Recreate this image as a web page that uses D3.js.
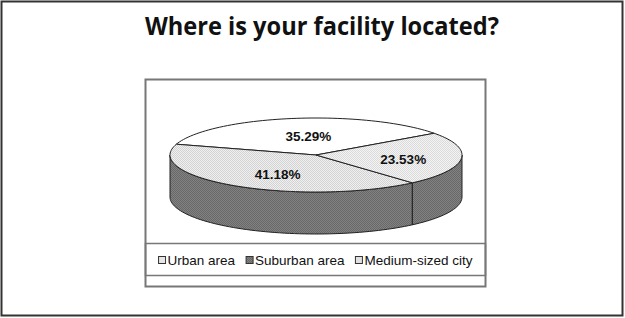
<!DOCTYPE html>
<html>
<head>
<meta charset="utf-8">
<script src="https://cdn.jsdelivr.net/npm/d3@7"></script>
<style>
  body { margin: 0; background: #fff; }
  svg { display: block; }
</style>
</head>
<body>
<div id="chart"></div>
<script>
'use strict'

// data
const title = 'Where is your facility located?';
const categories = ['Urban area', 'Suburban area', 'Medium-sized city'];
const values = [35.29, 41.18, 23.53];
const valueLabels = ['35.29%', '41.18%', '23.53%'];

const topFills = ['url(#pWhite)', 'url(#pLight)', 'url(#pLight2)'];
const sideFill = 'url(#pDark)';
const swatchFills = ['url(#pLight2)', 'url(#pDark)', 'url(#pLight)'];

const W = 625, H = 318;
const cx = 316, cy = 155, rx = 146, ry = 37, depth = 42;

const svg = d3.select('#chart')
    .append('svg')
    .attr('width', W)
    .attr('height', H);

// stipple patterns
const defs = svg.append('defs');
function pattern(id, a, b) {
    const p = defs.append('pattern')
        .attr('id', id)
        .attr('width', 2).attr('height', 2)
        .attr('patternUnits', 'userSpaceOnUse');
    p.append('rect').attr('width', 2).attr('height', 2).attr('fill', a);
    p.append('rect').attr('width', 1).attr('height', 1).attr('fill', b);
    p.append('rect').attr('x', 1).attr('y', 1).attr('width', 1).attr('height', 1).attr('fill', b);
}
pattern('pWhite', '#ffffff', '#ffffff');
pattern('pLight', '#f0f0f0', '#d2d2d2');
pattern('pLight2', '#f4f4f4', '#dadada');
pattern('pDark', '#828282', '#686868');

// frames
svg.append('rect')
    .attr('x', 1.5).attr('y', 1.5)
    .attr('width', 621).attr('height', 314)
    .attr('fill', 'none')
    .attr('stroke', '#333')
    .attr('stroke-width', 2);

svg.append('rect')
    .attr('x', 145.5).attr('y', 79.5)
    .attr('width', 340).attr('height', 207)
    .attr('fill', 'none')
    .attr('stroke', '#777')
    .attr('stroke-width', 2);

svg.append('text')
    .attr('x', 322).attr('y', 35)
    .attr('text-anchor', 'middle')
    .attr('font-family', '"Open Sans", sans-serif')
    .attr('font-weight', 700)
    .attr('font-size', 25)
    .attr('textLength', 354)
    .attr('lengthAdjust', 'spacingAndGlyphs')
    .attr('fill', '#111')
    .text(title);

// pie angles, counterclockwise from upper right
const deg = Math.PI / 180;
const pie = d3.pie()
    .sort(null)
    .value(d => d)
    .startAngle(54 * deg)
    .endAngle((54 - 360) * deg);
const arcs = pie(values);

const pt = (a, dy = 0) => [cx + rx * Math.sin(a), cy - ry * Math.cos(a) + dy];
const line = d3.line();

function arcPoints(a0, a1, dy) {
    const n = Math.max(2, Math.ceil(Math.abs(a1 - a0) / (2 * deg)));
    return d3.range(n + 1).map(i => pt(a0 + (a1 - a0) * i / n, dy));
}

// side walls (front half only)
const sideG = svg.append('g');
arcs.forEach(d => {
    const lo = Math.min(d.startAngle, d.endAngle);
    const hi = Math.max(d.startAngle, d.endAngle);
    for (let k = -2; k <= 2; k++) {
        const a = Math.max(lo, 90 * deg + 2 * Math.PI * k);
        const b = Math.min(hi, 270 * deg + 2 * Math.PI * k);
        if (b > a) {
            const pts = arcPoints(a, b, 0).concat(arcPoints(b, a, depth));
            sideG.append('path')
                .attr('d', line(pts) + 'Z')
                .attr('fill', sideFill)
                .attr('stroke', '#222')
                .attr('stroke-width', 1)
                .attr('stroke-linejoin', 'round');
        }
    }
});

// top faces
svg.append('g')
    .selectAll('path')
    .data(arcs)
    .enter().append('path')
    .attr('d', d => line([[cx, cy]].concat(arcPoints(d.startAngle, d.endAngle, 0))) + 'Z')
    .attr('fill', (d, i) => topFills[i])
    .attr('stroke', '#222')
    .attr('stroke-width', 1)
    .attr('stroke-linejoin', 'round');

// value labels
svg.append('g')
    .selectAll('text')
    .data(arcs)
    .enter().append('text')
    .attr('x', d => cx + 6 + 0.56 * rx * Math.sin((d.startAngle + d.endAngle) / 2))
    .attr('y', d => cy + 2 - 0.56 * ry * Math.cos((d.startAngle + d.endAngle) / 2))
    .attr('dy', '0.35em')
    .attr('text-anchor', 'middle')
    .attr('font-family', '"Liberation Sans", Arial, sans-serif')
    .attr('font-weight', 700)
    .attr('font-size', 13.5)
    .attr('fill', '#111')
    .text((d, i) => valueLabels[i]);

// legend
svg.append('rect')
    .attr('x', 145.5).attr('y', 243.5)
    .attr('width', 340).attr('height', 32)
    .attr('fill', 'none')
    .attr('stroke', '#777')
    .attr('stroke-width', 1.5);

const legend = svg.append('g');
const items = legend.selectAll('g')
    .data(categories)
    .enter().append('g');
items.append('rect')
    .attr('x', 0).attr('y', -3.5)
    .attr('width', 7).attr('height', 7)
    .attr('fill', (d, i) => swatchFills[i])
    .attr('stroke', '#333')
    .attr('stroke-width', 1);
items.append('text')
    .attr('x', 9)
    .attr('dy', '0.35em')
    .attr('font-family', '"Liberation Sans", Arial, sans-serif')
    .attr('font-size', 13.5)
    .attr('fill', '#111')
    .text(d => d);

let xoff = 0;
const gap = 11;
items.each(function() {
    const w = 9 + d3.select(this).select('text').node().getComputedTextLength();
    d3.select(this).attr('data-x', xoff);
    xoff += w + gap;
});
const total = xoff - gap;
const startX = 315.5 - total / 2;
items.attr('transform', function() {
    return 'translate(' + (startX + +d3.select(this).attr('data-x')) + ',260)';
});
</script>
</body>
</html>
